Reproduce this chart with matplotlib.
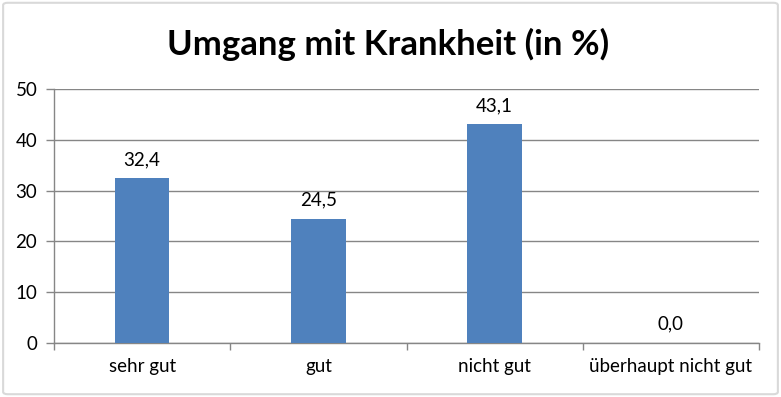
import matplotlib
matplotlib.use("Agg")
import matplotlib.pyplot as plt
from matplotlib.patches import FancyBboxPatch

# data
categories = ["sehr gut", "gut", "nicht gut", "überhaupt nicht gut"]
values = [32.4, 24.5, 43.1, 0.0]
y_ticks = [0, 10, 20, 30, 40, 50]

plt.rcParams['font.family'] = ['Lato', 'DejaVu Sans']

grey = "#868686"
bar_color = "#4F81BD"

fig = plt.figure(figsize=(7.81, 3.97), dpi=100)
ax = fig.add_axes([54 / 781, 54 / 397, 705 / 781, 254 / 397])

# outer chart border
fig.patches.append(FancyBboxPatch((0.004, 0.007), 0.992, 0.986,
                                  boxstyle="round,pad=0,rounding_size=0.006",
                                  transform=fig.transFigure, fill=False,
                                  edgecolor="#D9D9D9", linewidth=1.5))

x = list(range(len(categories)))
ax.bar(x, values, width=0.31, color=bar_color, zorder=3)

for xi, v in zip(x, values):
    ax.text(xi, v + 2.0, f"{v:.1f}".replace(".", ","), ha="center", va="bottom",
            fontsize=13.5, color="#000000")

ax.set_xlim(-0.5, len(categories) - 0.5)
ax.set_ylim(0, 50)
ax.set_yticks(y_ticks)
ax.set_yticklabels([str(t) for t in y_ticks], fontsize=13.5)
ax.yaxis.grid(True, color=grey, linewidth=1, zorder=0)
ax.set_axisbelow(True)

ax.set_xticks(x)
ax.set_xticklabels(categories, fontsize=13.5)
ax.tick_params(axis="x", length=0, pad=11)
# category boundary ticks
ax.set_xticks([i - 0.5 for i in range(len(categories) + 1)], minor=True)
ax.tick_params(axis="x", which="minor", length=5, color=grey, width=1)
ax.tick_params(axis="y", length=6, color=grey, width=1, pad=6)

for side in ["top", "right"]:
    ax.spines[side].set_visible(False)
for side in ["left", "bottom"]:
    ax.spines[side].set_color(grey)
    ax.spines[side].set_linewidth(1)

fig.text(0.497, 0.887, "Umgang mit Krankheit (in %)", ha="center", va="center",
         fontsize=25, fontweight="bold")

fig.savefig("out.png", dpi=100)
